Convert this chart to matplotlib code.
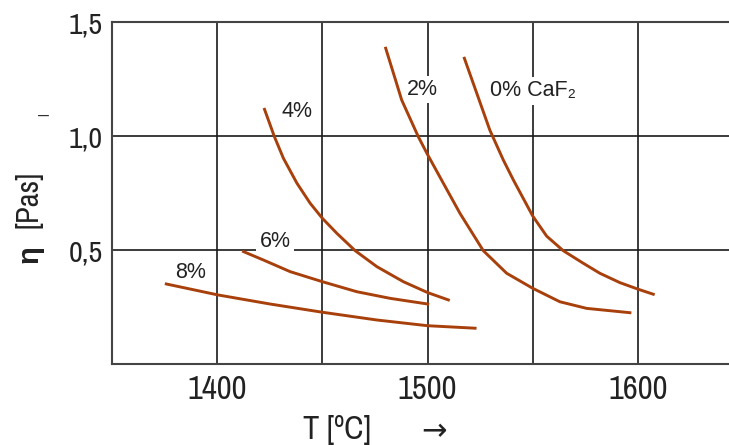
import matplotlib
matplotlib.use('Agg')
import matplotlib.pyplot as plt

# viscosity curves: temperature [C] / eta [Pas]
t_0 = [1517.5, 1529.6, 1536.0, 1540.8, 1550.0, 1556.6, 1564.5, 1574.0, 1581.9, 1591.4, 1600.1, 1607.3]
eta_0 = [1.341, 1.026, 0.895, 0.807, 0.649, 0.561, 0.497, 0.442, 0.398, 0.357, 0.328, 0.306]

t_2 = [1480.1, 1483.9, 1487.7, 1495.6, 1500.1, 1507.5, 1515.4, 1526.5, 1537.6, 1550.0, 1562.9, 1575.6, 1596.2]
eta_2 = [1.385, 1.272, 1.158, 0.997, 0.917, 0.793, 0.661, 0.497, 0.398, 0.332, 0.273, 0.244, 0.225]

t_4 = [1422.5, 1427.2, 1431.5, 1437.9, 1444.2, 1450.0, 1456.9, 1465.6, 1475.9, 1488.5, 1500.1, 1509.9]
eta_4 = [1.117, 0.997, 0.902, 0.793, 0.705, 0.639, 0.573, 0.497, 0.427, 0.361, 0.313, 0.281]

t_6 = [1412.5, 1422.0, 1434.7, 1450.0, 1466.4, 1482.2, 1500.1]
eta_6 = [0.493, 0.456, 0.405, 0.361, 0.317, 0.288, 0.263]

t_8 = [1375.8, 1400.3, 1425.2, 1450.0, 1475.9, 1499.9, 1522.6]
eta_8 = [0.351, 0.303, 0.263, 0.227, 0.193, 0.168, 0.157]

curve_labels = ['0% CaF₂', '2%', '4%', '6%', '8%']
label_x = [1529.7, 1490.1, 1430.4, 1420.1, 1380.0]
label_y = [1.198, 1.204, 1.107, 0.539, 0.400]

x_grid = [1400, 1450, 1500, 1550, 1600]
x_tick_labels = ['1400', '', '1500', '', '1600']
y_ticks = [0.5, 1.0, 1.5]
y_tick_labels = ['0,5', '1,0', '1,5']

W, H = 729, 445
narrow = ['Archivo Narrow', 'DejaVu Sans']
regular = ['Liberation Sans', 'DejaVu Sans']
line_color = '#A8400C'
text_color = '#222222'

fig = plt.figure(figsize=(W / 100, H / 100), dpi=100)
ax = fig.add_axes([112 / W, 1 - 364 / H, 1 - 112 / W, (364 - 22) / H])

for t, eta in [(t_0, eta_0), (t_2, eta_2), (t_4, eta_4), (t_6, eta_6), (t_8, eta_8)]:
    ax.plot(t, eta, color=line_color, lw=2.1, zorder=4, solid_joinstyle='round')

for s, x, y in zip(curve_labels, label_x, label_y):
    ax.text(x, y, s, ha='left', va='center', fontsize=15.5, family=regular, color=text_color,
            zorder=3, bbox=dict(facecolor='white', edgecolor='none', pad=2.5))

ax.set_xlim(1350, 1643.3)
ax.set_ylim(0, 1.5)
ax.set_xticks(x_grid)
ax.set_xticklabels(x_tick_labels)
ax.set_yticks(y_ticks)
ax.set_yticklabels(y_tick_labels)
for lab in ax.get_xticklabels():
    lab.set_fontfamily(narrow)
    lab.set_fontsize(23.5)
for lab in ax.get_yticklabels():
    lab.set_fontfamily(narrow)
    lab.set_fontsize(21.5)
ax.tick_params(axis='x', length=0, pad=8, colors=text_color)
ax.tick_params(axis='y', length=0, pad=6.5, colors=text_color)

ax.set_axisbelow(True)
ax.grid(True, color='#1a1a1a', lw=1.2)
ax.spines['right'].set_visible(False)
for side in ['left', 'bottom', 'top']:
    ax.spines[side].set_color('#444444')
    ax.spines[side].set_linewidth(1.5)

# axis titles
fig.text(38 / W, 1 - 263 / H, 'η', rotation=90, rotation_mode='anchor', ha='left', va='baseline',
         fontsize=21, fontweight='bold', family=regular, color=text_color)
fig.text(38 / W, 1 - 228.3 / H, '[Pas]', rotation=90, rotation_mode='anchor', ha='left', va='baseline',
         fontsize=22, family=narrow, color=text_color)
fig.text(44 / W, 1 - 115 / H, '–', ha='center', va='center', fontsize=14, family=regular, color='#333333')
fig.text(302.7 / W, 1 - 439 / H, 'T [ºC]', ha='left', va='baseline', fontsize=23.5, family=narrow,
         color=text_color)
fig.text(421.7 / W, 1 - 440 / H, '→', ha='left', va='baseline', fontsize=22, family=['DejaVu Sans'],
         color=text_color)

fig.savefig('out.png', dpi=100)
